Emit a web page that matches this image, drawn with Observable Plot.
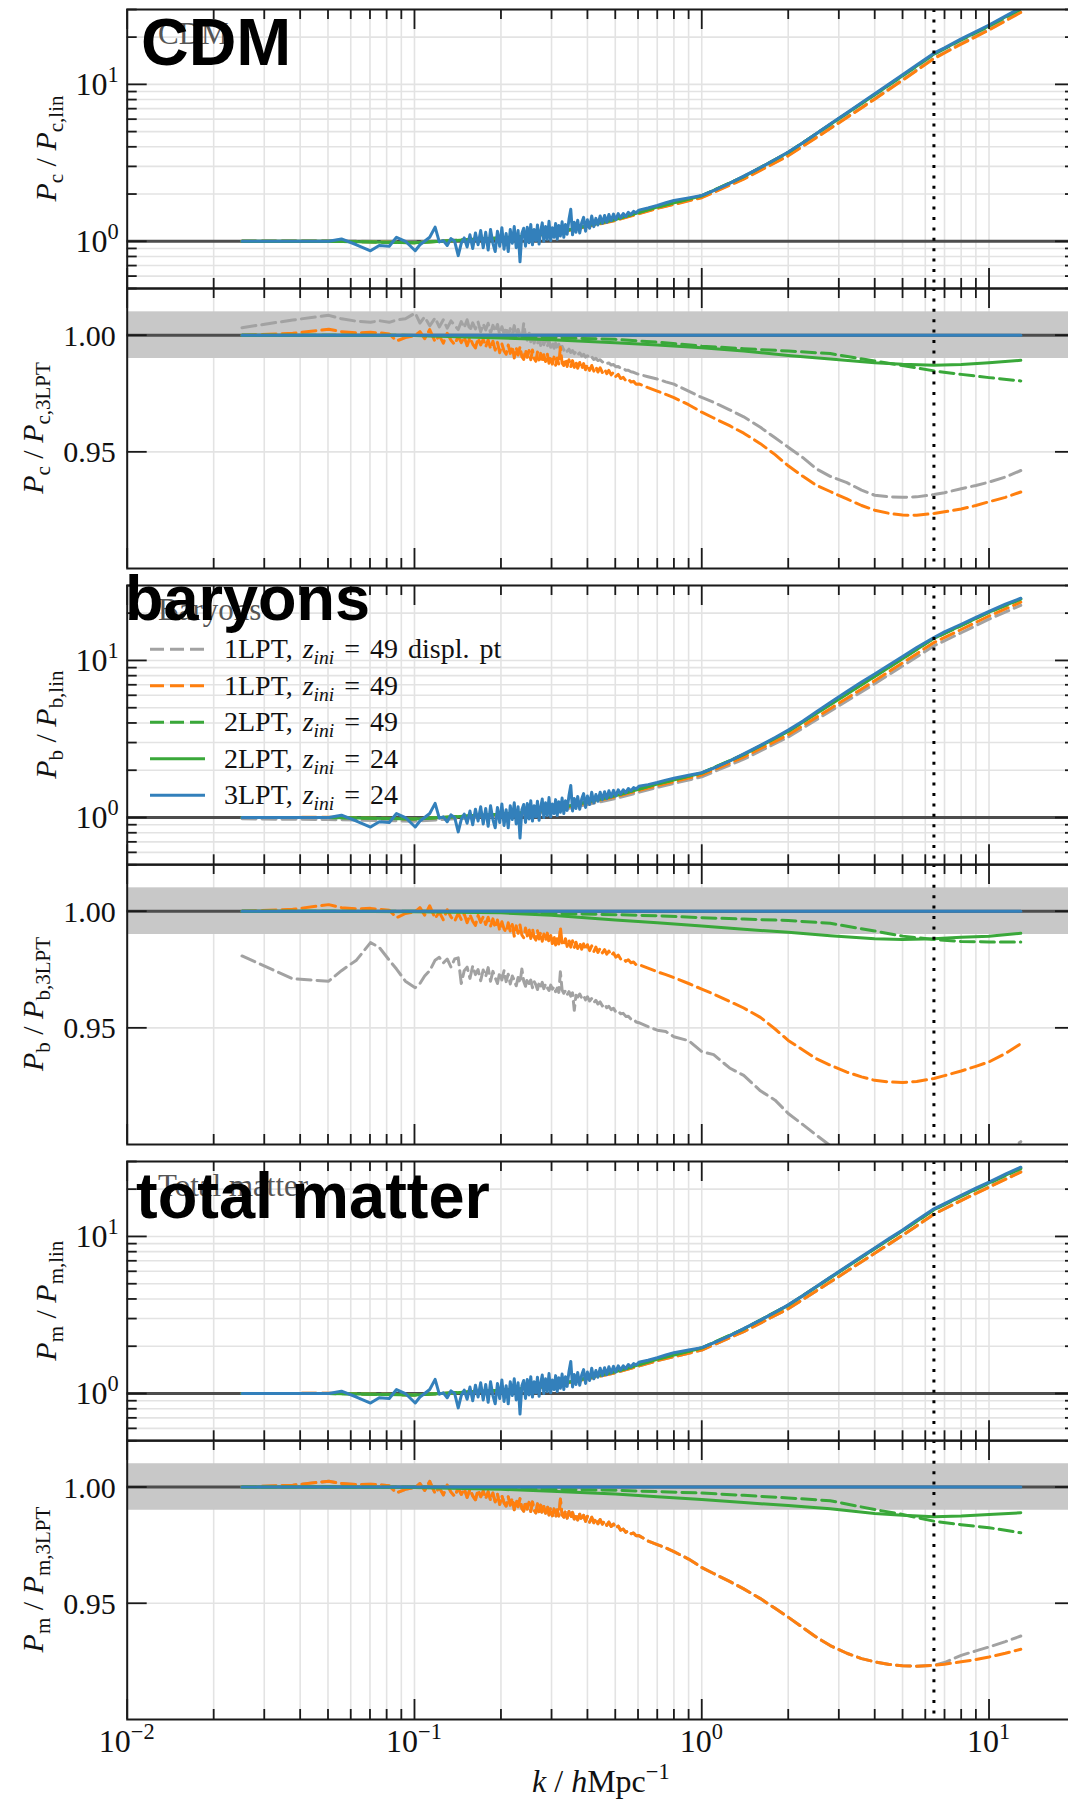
<!DOCTYPE html>
<html>
<head>
<meta charset="utf-8">
<script src="https://cdn.jsdelivr.net/npm/d3@7"></script>
<script src="https://cdn.jsdelivr.net/npm/@observablehq/plot@0.6"></script>
<style>
  html, body { margin: 0; padding: 0; background: #fff; overflow: hidden; }
  #fig { position: relative; width: 1068px; height: 1799px; overflow: hidden; }
  #fig svg { position: absolute; left: 0; }
</style>
</head>
<body>
<div id="fig"></div>
<script>
// ---------------------------------------------------------------------------
// Wavenumber grids (h/Mpc)
// ---------------------------------------------------------------------------
// dense, linearly binned low-k part where the spectra are noisy
const kLow = [
  0.0251, 0.0377, 0.0503, 0.0557, 0.0628, 0.0703, 0.0754, 0.0817, 0.0866, 0.0930,
  0.1006, 0.1045, 0.1085, 0.1130, 0.1180, 0.1220, 0.1260, 0.1300, 0.1340, 0.1380,
  0.1420, 0.1455, 0.1490, 0.1525, 0.1560, 0.1595, 0.1630, 0.1665, 0.1700, 0.1735,
  0.1770, 0.1805, 0.1840, 0.1875, 0.1910, 0.1945, 0.1980, 0.2015, 0.2050, 0.2085,
  0.2120, 0.2155, 0.2190, 0.2225, 0.2260, 0.2295, 0.2330, 0.2365, 0.2400, 0.2435,
  0.2470, 0.2505, 0.2540, 0.2575, 0.2610, 0.2645, 0.2680, 0.2715, 0.2750, 0.2785,
  0.2820, 0.2860, 0.2900, 0.2940, 0.2980, 0.3020, 0.3060, 0.3100, 0.3140, 0.3180,
  0.3220, 0.3265, 0.3310, 0.3355, 0.3400, 0.3450, 0.3500, 0.3550, 0.3600, 0.3650,
  0.3700, 0.3760, 0.3820, 0.3880, 0.3940, 0.4000, 0.4070, 0.4140, 0.4210, 0.4280,
  0.4350, 0.4430, 0.4510, 0.4590, 0.4670, 0.4750, 0.4840, 0.4930, 0.5020, 0.5120,
  0.5220, 0.5330, 0.5440, 0.5550, 0.5670, 0.5790, 0.5910, 0.6040
];
// smooth high-k part
const kHigh = [0.65, 0.70, 0.75, 0.80, 0.90, 1.00, 1.10, 1.25, 1.40, 1.60,
               1.80, 2.00, 2.25, 2.50, 2.80, 3.20, 3.60, 4.00, 4.50, 5.00,
               5.60, 6.43, 7.00, 8.00, 9.00, 10.0, 11.4, 12.9];
const kCoarse = [0.0251, 0.05, 0.1, 0.2, 0.3, 0.5, 0.7, 1.0, 1.4, 2.0, 2.8, 4.0, 5.0, 6.43, 8.0, 10.0, 12.9];
const kEnds = [0.0251, 12.9];
const kNyquist = [6.43];

// ---------------------------------------------------------------------------
// P / P_lin for 3LPT, z_ini = 24
// ---------------------------------------------------------------------------
// low-k part (same realisation for CDM, baryons and total matter)
const lin3LowK = [
  1.00, 1.00, 1.00, 1.035, 0.95, 0.87, 0.94, 0.93, 1.06, 1.00,
  0.87, 0.95, 1.00, 1.06, 1.23, 0.99, 1.01, 0.94, 1.04, 1.00,
  0.81, 0.97, 1.05, 0.92, 1.10, 0.90, 1.13, 0.95, 1.17, 0.91,
  1.14, 0.88, 1.19, 0.97, 0.86, 1.16, 0.93, 1.22, 0.89, 1.12,
  0.86, 1.19, 0.97, 1.24, 0.91, 1.17, 0.74, 1.12, 1.21, 0.93,
  1.23, 0.98, 1.28, 0.95, 1.19, 1.01, 1.27, 0.96, 1.16, 1.31,
  1.00, 1.24, 1.03, 1.34, 1.01, 1.22, 1.06, 1.30, 1.03, 1.26,
  1.08, 1.33, 1.06, 1.28, 1.11, 1.38, 1.60, 1.10, 1.32, 1.14,
  1.36, 1.13, 1.31, 1.42, 1.16, 1.37, 1.21, 1.45, 1.24, 1.40,
  1.27, 1.45, 1.30, 1.46, 1.32, 1.48, 1.35, 1.49, 1.37, 1.50,
  1.41, 1.50, 1.44, 1.53, 1.48, 1.55, 1.52, 1.58
];
const cdmLin3High = [1.63, 1.69, 1.76, 1.82, 1.89, 1.96, 2.10, 2.34, 2.60, 2.95,
                     3.32, 3.71, 4.25, 4.85, 5.60, 6.60, 7.65, 8.70, 10.1, 11.5,
                     13.3, 15.8, 17.1, 19.5, 21.7, 23.9, 27.2, 30.8];
const barLin3High = [1.62, 1.67, 1.73, 1.78, 1.86, 1.93, 2.06, 2.29, 2.54, 2.88,
                     3.23, 3.60, 4.12, 4.70, 5.40, 6.35, 7.30, 8.20, 9.40, 10.6,
                     12.1, 14.0, 15.2, 17.0, 18.8, 20.5, 22.8, 24.9];
const totLin3High = [1.63, 1.69, 1.76, 1.82, 1.89, 1.96, 2.10, 2.33, 2.59, 2.93,
                     3.29, 3.67, 4.20, 4.78, 5.50, 6.45, 7.45, 8.45, 9.75, 11.0,
                     12.7, 15.0, 16.2, 18.3, 20.3, 22.2, 24.9, 27.6];

// P / P_lin for the other runs (coarse grid)
const cdmLinDispl = [1.003, 1.009, 0.989, 1.051, 1.117, 1.362, 1.628, 1.908, 2.509, 3.532, 5.261, 8.103, 10.70, 14.72, 18.22, 22.39, 29.01];
const cdmLin1     = [1.000, 1.002, 0.980, 1.045, 1.109, 1.356, 1.619, 1.895, 2.492, 3.502, 5.225, 8.048, 10.61, 14.59, 18.05, 22.19, 28.73];
const cdmLin2z49  = [1.000, 1.000, 0.980, 1.049, 1.119, 1.378, 1.655, 1.951, 2.585, 3.685, 5.556, 8.603, 11.35, 15.56, 19.17, 23.47, 30.20];
const cdmLin2z24  = [1.000, 1.000, 0.980, 1.049, 1.118, 1.376, 1.653, 1.949, 2.582, 3.678, 5.543, 8.597, 11.36, 15.60, 19.25, 23.62, 30.47];

const barLinDispl = [0.981, 0.970, 0.948, 1.021, 1.085, 1.319, 1.556, 1.815, 2.350, 3.251, 4.749, 7.112, 9.209, 12.39, 15.01, 18.31, 22.44];
const barLin1     = [1.000, 1.003, 0.980, 1.044, 1.108, 1.354, 1.597, 1.866, 2.425, 3.363, 4.932, 7.420, 9.637, 13.00, 15.74, 19.18, 23.49];
const barLin2z49  = [1.000, 1.000, 0.980, 1.049, 1.119, 1.378, 1.637, 1.925, 2.521, 3.546, 5.253, 7.932, 10.29, 13.83, 16.68, 20.23, 24.57];
const barLin2z24  = [1.000, 1.000, 0.980, 1.049, 1.118, 1.375, 1.632, 1.918, 2.510, 3.528, 5.225, 7.906, 10.27, 13.83, 16.71, 20.28, 24.66];

const totLinDispl = [1.000, 1.003, 0.980, 1.045, 1.109, 1.355, 1.618, 1.892, 2.478, 3.464, 5.125, 7.815, 10.15, 13.85, 16.98, 20.67, 25.83];
const totLin1     = [1.000, 1.003, 0.980, 1.045, 1.109, 1.355, 1.618, 1.892, 2.478, 3.464, 5.125, 7.815, 10.15, 13.85, 16.92, 20.58, 25.67];
const totLin2z49  = [1.000, 1.000, 0.980, 1.049, 1.119, 1.378, 1.657, 1.955, 2.581, 3.653, 5.468, 8.368, 10.87, 14.78, 18.00, 21.81, 27.06];
const totLin2z24  = [1.000, 1.000, 0.980, 1.049, 1.118, 1.376, 1.653, 1.949, 2.573, 3.641, 5.448, 8.354, 10.87, 14.81, 18.07, 21.94, 27.29];

// ---------------------------------------------------------------------------
// P / P_3LPT ratios
// ---------------------------------------------------------------------------
// 1LPT z_ini = 49 at low k (CDM and total matter; also the displaced-particle
// total-matter run, which coincides with it there)
const lpt1RatioLowK = [
  1.0000, 1.0008, 1.0025, 1.0015, 1.0010, 1.0012, 1.0010, 1.0005, 0.9975, 0.9990,
  0.9998, 1.0015, 0.9985, 1.0024, 0.9972, 0.9998, 0.9966, 1.0008, 0.9978, 0.9960,
  0.9995, 0.9968, 0.9992, 0.9955, 0.9990, 0.9962, 0.9945, 0.9987, 0.9958, 0.9982,
  0.9950, 0.9980, 0.9942, 0.9974, 0.9936, 0.9969, 0.9925, 0.9962, 0.9932, 0.9918,
  0.9958, 0.9922, 0.9952, 0.9902, 0.9946, 0.9915, 0.9950, 0.9908, 0.9896, 0.9938,
  0.9905, 0.9934, 0.9895, 0.9936, 0.9900, 0.9888, 0.9928, 0.9894, 0.9922, 0.9884,
  0.9916, 0.9887, 0.9920, 0.9880, 0.9911, 0.9876, 0.9906, 0.9871, 0.9902, 0.9875,
  0.9948, 0.9880, 0.9870, 0.9899, 0.9866, 0.9895, 0.9864, 0.9891, 0.9862, 0.9885,
  0.9858, 0.9883, 0.9855, 0.9878, 0.9852, 0.9874, 0.9849, 0.9870, 0.9846, 0.9865,
  0.9842, 0.9860, 0.9840, 0.9854, 0.9835, 0.9849, 0.9830, 0.9841, 0.9823, 0.9832,
  0.9814, 0.9819, 0.9805, 0.9812, 0.9799, 0.9802, 0.9790, 0.9791
];
const barLpt1RatioLowK = [
  1.0000, 1.0008, 1.0028, 1.0015, 1.0010, 1.0012, 1.0008, 1.0004, 0.9972, 0.9990,
  0.9997, 1.0015, 0.9983, 1.0023, 0.9969, 0.9996, 0.9963, 1.0006, 0.9975, 0.9957,
  0.9991, 0.9964, 0.9988, 0.9950, 0.9985, 0.9957, 0.9939, 0.9982, 0.9952, 0.9976,
  0.9943, 0.9974, 0.9935, 0.9967, 0.9929, 0.9962, 0.9917, 0.9955, 0.9924, 0.9910,
  0.9950, 0.9913, 0.9943, 0.9893, 0.9937, 0.9905, 0.9941, 0.9898, 0.9886, 0.9928,
  0.9894, 0.9923, 0.9883, 0.9925, 0.9888, 0.9876, 0.9916, 0.9881, 0.9909, 0.9871,
  0.9902, 0.9873, 0.9906, 0.9865, 0.9896, 0.9861, 0.9891, 0.9855, 0.9886, 0.9859,
  0.9931, 0.9863, 0.9853, 0.9882, 0.9849, 0.9877, 0.9846, 0.9873, 0.9844, 0.9867,
  0.9840, 0.9865, 0.9837, 0.9860, 0.9834, 0.9856, 0.9831, 0.9851, 0.9827, 0.9846,
  0.9823, 0.9841, 0.9821, 0.9835, 0.9816, 0.9829, 0.9810, 0.9821, 0.9803, 0.9812,
  0.9795, 0.9799, 0.9785, 0.9792, 0.9779, 0.9782, 0.9770, 0.9771
];
const cdmDisplRatioLowK = [
  1.0032, 1.0065, 1.0085, 1.0070, 1.0060, 1.0055, 1.0062, 1.0055, 1.0065, 1.0070,
  1.0095, 1.0052, 1.0078, 1.0040, 1.0074, 1.0035, 1.0066, 1.0030, 1.0061, 1.0042,
  1.0024, 1.0058, 1.0032, 1.0066, 1.0019, 1.0053, 1.0027, 1.0056, 1.0014, 1.0048,
  1.0022, 1.0051, 1.0009, 1.0042, 1.0016, 1.0046, 1.0002, 1.0036, 1.0006, 1.0033,
  0.9996, 1.0028, 1.0004, 1.0041, 0.9990, 1.0024, 0.9999, 0.9984, 1.0050, 0.9994,
  0.9979, 1.0012, 0.9972, 1.0002, 0.9966, 0.9994, 0.9962, 0.9989, 0.9956, 0.9985,
  0.9959, 0.9982, 0.9952, 0.9976, 0.9948, 0.9972, 0.9944, 0.9966, 0.9940, 0.9961,
  0.9940, 0.9952, 0.9936, 0.9945, 0.9931, 0.9940, 0.9926, 0.9934, 0.9921, 0.9929,
  0.9916, 0.9924, 0.9911, 0.9918, 0.9906, 0.9912, 0.9901, 0.9907, 0.9896, 0.9901,
  0.9891, 0.9895, 0.9885, 0.9888, 0.9879, 0.9881, 0.9872, 0.9874, 0.9865, 0.9866,
  0.9858, 0.9857, 0.9850, 0.9850, 0.9843, 0.9841, 0.9836, 0.9832
];
const barDisplRatioLowK = [
  0.9808, 0.9710, 0.9700, 0.9745, 0.9790, 0.9865, 0.9845, 0.9790, 0.9752, 0.9700,
  0.9672, 0.9690, 0.9722, 0.9745, 0.9790, 0.9802, 0.9778, 0.9795, 0.9760, 0.9795,
  0.9800, 0.9690, 0.9745, 0.9760, 0.9712, 0.9765, 0.9728, 0.9750, 0.9702, 0.9748,
  0.9720, 0.9758, 0.9700, 0.9742, 0.9715, 0.9690, 0.9738, 0.9705, 0.9745, 0.9698,
  0.9730, 0.9688, 0.9722, 0.9705, 0.9680, 0.9716, 0.9692, 0.9752, 0.9700, 0.9678,
  0.9712, 0.9690, 0.9705, 0.9672, 0.9698, 0.9685, 0.9664, 0.9692, 0.9676, 0.9695,
  0.9668, 0.9688, 0.9672, 0.9660, 0.9683, 0.9666, 0.9676, 0.9655, 0.9670, 0.9652,
  0.9740, 0.9662, 0.9648, 0.9660, 0.9642, 0.9655, 0.9636, 0.9650, 0.9575, 0.9640,
  0.9632, 0.9645, 0.9628, 0.9638, 0.9620, 0.9633, 0.9615, 0.9626, 0.9608, 0.9618,
  0.9602, 0.9611, 0.9594, 0.9603, 0.9586, 0.9592, 0.9578, 0.9584, 0.9568, 0.9572,
  0.9560, 0.9562, 0.9549, 0.9550, 0.9537, 0.9538, 0.9525, 0.9522
];

// high-k parts on kHigh
const cdmDisplRatioHigh = [0.9822, 0.9812, 0.9800, 0.9790, 0.9760, 0.9733, 0.9712, 0.9680, 0.9650, 0.9605,
                           0.9560, 0.9520, 0.9475, 0.9428, 0.9395, 0.9368, 0.9336, 0.9314, 0.9307, 0.9305,
                           0.9307, 0.9317, 0.9325, 0.9342, 0.9356, 0.9370, 0.9392, 0.9420];
const cdmLpt1RatioHigh  = [0.9775, 0.9760, 0.9746, 0.9732, 0.9702, 0.9670, 0.9645, 0.9612, 0.9580, 0.9535,
                           0.9488, 0.9440, 0.9395, 0.9357, 0.9330, 0.9298, 0.9270, 0.9250, 0.9236, 0.9229,
                           0.9228, 0.9236, 0.9243, 0.9255, 0.9270, 0.9286, 0.9305, 0.9328];
const barDisplRatioHigh = [0.9505, 0.9490, 0.9484, 0.9462, 0.9445, 0.9398, 0.9385, 0.9328, 0.9296, 0.9230,
                           0.9190, 0.9133, 0.9085, 0.9041, 0.8995, 0.8955, 0.8920, 0.8890, 0.8870, 0.8855,
                           0.8850, 0.8850, 0.8858, 0.8880, 0.8905, 0.8930, 0.8965, 0.9012];
const barLpt1RatioHigh  = [0.9756, 0.9740, 0.9728, 0.9715, 0.9690, 0.9666, 0.9645, 0.9613, 0.9585, 0.9545,
                           0.9495, 0.9446, 0.9405, 0.9368, 0.9340, 0.9310, 0.9290, 0.9275, 0.9268, 0.9266,
                           0.9270, 0.9283, 0.9295, 0.9315, 0.9335, 0.9354, 0.9390, 0.9432];
const totDisplRatioHigh = [0.9768, 0.9752, 0.9738, 0.9722, 0.9690, 0.9654, 0.9628, 0.9594, 0.9562, 0.9520,
                           0.9478, 0.9440, 0.9395, 0.9355, 0.9318, 0.9285, 0.9262, 0.9248, 0.9237, 0.9231,
                           0.9229, 0.9233, 0.9245, 0.9276, 0.9295, 0.9312, 0.9335, 0.9359];
const totLpt1RatioHigh  = [0.9768, 0.9752, 0.9738, 0.9722, 0.9690, 0.9654, 0.9628, 0.9594, 0.9562, 0.9520,
                           0.9478, 0.9440, 0.9395, 0.9355, 0.9318, 0.9285, 0.9262, 0.9248, 0.9237, 0.9231,
                           0.9229, 0.9233, 0.9238, 0.9248, 0.9258, 0.9269, 0.9285, 0.9302];

// 2LPT ratios on the coarse grid
const cdmRatio2z49 = [1.0000, 1.0000, 0.9999, 0.9995, 0.9990, 0.9982, 0.9970, 0.9953, 0.9942, 0.9932, 0.9921, 0.9889, 0.9870, 0.9847, 0.9832, 0.9818, 0.9804];
const cdmRatio2z24 = [1.0000, 1.0000, 0.9999, 0.9988, 0.9980, 0.9968, 0.9958, 0.9946, 0.9932, 0.9913, 0.9898, 0.9882, 0.9875, 0.9871, 0.9874, 0.9882, 0.9892];
const barRatio2z49 = [1.0000, 1.0000, 1.0000, 0.9995, 0.9990, 0.9985, 0.9980, 0.9972, 0.9966, 0.9960, 0.9948, 0.9915, 0.9893, 0.9879, 0.9870, 0.9868, 0.9868];
const barRatio2z24 = [1.0000, 1.0000, 0.9998, 0.9993, 0.9982, 0.9962, 0.9950, 0.9936, 0.9922, 0.9910, 0.9895, 0.9882, 0.9879, 0.9882, 0.9888, 0.9893, 0.9905];
const totRatio2z49 = [1.0000, 1.0000, 1.0000, 0.9995, 0.9990, 0.9986, 0.9980, 0.9974, 0.9964, 0.9953, 0.9941, 0.9903, 0.9882, 0.9853, 0.9838, 0.9825, 0.9803];
const totRatio2z24 = [1.0000, 1.0000, 0.9998, 0.9990, 0.9982, 0.9970, 0.9958, 0.9946, 0.9933, 0.9920, 0.9906, 0.9886, 0.9878, 0.9872, 0.9875, 0.9882, 0.9889];

const ratio3 = [1.0, 1.0];

// ---------------------------------------------------------------------------
// Axes: limits, ticks, labels
// ---------------------------------------------------------------------------
const kDomain = [0.01, 20];
const kMajor = [0.01, 0.1, 1, 10];
const kMinor = [0.02, 0.03, 0.04, 0.05, 0.06, 0.07, 0.08, 0.09,
                0.2, 0.3, 0.4, 0.5, 0.6, 0.7, 0.8, 0.9,
                2, 3, 4, 5, 6, 7, 8, 9, 20];
const kTickExponents = ["\u22122", "\u22121", "0", "1"];

const linDomain = [0.5, 30];
const linMajor = [1, 10];
const linMinor = [0.5, 0.6, 0.7, 0.8, 0.9, 2, 3, 4, 5, 6, 7, 8, 9, 20, 30];
const linTickExponents = ["0", "1"];

const ratioDomain = [0.90, 1.02];
const ratioMajor = [0.95, 1.00];
const ratioTickText = ["0.95", "1.00"];
const band = [[0.99, 1.01]];

const runLabels = [
  ["1LPT, ", "49 displ. pt"],
  ["1LPT, ", "49"],
  ["2LPT, ", "49"],
  ["2LPT, ", "24"],
  ["3LPT, ", "24"]
];

// line styles per run
const runStyle = {
  displ: {stroke: "#a2a2a2", dash: "14,6"},
  lpt1:  {stroke: "#ff7f0e", dash: "14,6"},
  lpt2a: {stroke: "#3aa83a", dash: "14,6"},
  lpt2b: {stroke: "#3aa83a", dash: null},
  lpt3:  {stroke: "#3380bb", dash: null}
};
const runOrder = ["displ", "lpt1", "lpt2a", "lpt2b", "lpt3"];

// ---------------------------------------------------------------------------
// Drawing helpers
// ---------------------------------------------------------------------------
const fig = document.getElementById("fig");
const W = 1076, ML = 126.7, MR = 1;
const SERIF = "'Liberation Serif', 'DejaVu Serif', serif";
const SANS = "'Liberation Sans', Arial, Helvetica, sans-serif";
const INK = "#1a1a1a";
const TICK_FONT = 32;

function rows(k, v) { return k.map((kk, i) => ({k: kk, v: v[i]})); }

function scaleFn(desc) {
  if (desc && typeof desc.apply === "function") return v => desc.apply(v);
  const s = (desc.type === "log" ? d3.scaleLog() : d3.scaleLinear()).domain(desc.domain).range(desc.range);
  return v => s(v);
}

// text with italic / sub / superscript runs
function rich(sel, parts, size) {
  let shift = 0;
  for (const p of parts) {
    const target = p.sub ? size * 0.22 : p.sup ? -size * 0.4 : 0;
    const ts = sel.append("tspan").text(p.t);
    if (target - shift !== 0) ts.attr("dy", target - shift);
    shift = target;
    if (p.sub || p.sup) ts.attr("font-size", size * 0.7);
    if (p.it) ts.attr("font-style", "italic");
  }
  return sel;
}

function drawPanel(spec) {
  const {top, bottom, kind, lines, ylabel, bottomAxis} = spec;
  const mt = 12, mb = bottomAxis ? 95 : 12;
  const ph = bottom - top, pw = W - ML - MR;
  const isLog = kind === "lin";
  const yMaj = isLog ? linMajor : ratioMajor;
  const yMin = isLog ? linMinor : [];
  const tick = {stroke: INK, strokeWidth: 1.8};

  const marks = [
    Plot.ruleX(kMajor.concat(kMinor), {stroke: "#e3e3e3", strokeWidth: 1.6}),
    Plot.ruleY(yMaj.concat(yMin), {stroke: "#e3e3e3", strokeWidth: 1.6})
  ];
  if (!isLog) {
    marks.push(Plot.rect(band, {x1: () => kDomain[0], x2: () => kDomain[1], y1: d => d[0], y2: d => d[1], fill: "#c8c8c8"}));
  }
  marks.push(Plot.ruleY([1], {stroke: "#4d4d4d", strokeWidth: 3}));
  for (const ln of lines) {
    const st = runStyle[ln.run];
    marks.push(Plot.line(rows(ln.k, ln.v), {
      x: "k", y: "v", stroke: st.stroke, strokeWidth: 3,
      strokeDasharray: st.dash, strokeLinejoin: "round", clip: true
    }));
  }
  marks.push(Plot.ruleX(kNyquist, {stroke: "#000", strokeWidth: 3, strokeDasharray: "3,7.4"}));
  // inward ticks on all four spines
  marks.push(
    Plot.ruleX(kMajor, {...tick, insetTop: ph - 20}),
    Plot.ruleX(kMinor, {...tick, insetTop: ph - 10}),
    Plot.ruleX(kMajor, {...tick, insetBottom: ph - 20}),
    Plot.ruleX(kMinor, {...tick, insetBottom: ph - 10}),
    Plot.ruleY(yMaj, {...tick, insetRight: pw - 20}),
    Plot.ruleY(yMaj, {...tick, insetLeft: pw - 20})
  );
  if (yMin.length) {
    marks.push(
      Plot.ruleY(yMin, {...tick, insetRight: pw - 10}),
      Plot.ruleY(yMin, {...tick, insetLeft: pw - 10})
    );
  }
  marks.push(Plot.frame({stroke: INK, strokeWidth: 2}));

  const svg = Plot.plot({
    width: W, height: ph + mt + mb,
    marginLeft: ML, marginRight: MR, marginTop: mt, marginBottom: mb,
    style: "background: transparent; overflow: visible; max-width: none;",
    x: {type: "log", domain: kDomain, axis: null},
    y: {type: isLog ? "log" : "linear", domain: isLog ? linDomain : ratioDomain, axis: null},
    marks
  });
  const offset = top - mt;
  svg.style.top = offset + "px";
  fig.appendChild(svg);

  const sx = scaleFn(svg.scale("x"));
  const sy = scaleFn(svg.scale("y"));
  const g = d3.select(svg).append("g")
    .attr("font-family", SERIF).attr("fill", "#111").attr("text-anchor", "start");

  // y tick labels
  if (isLog) {
    linMajor.forEach((v, i) => {
      rich(g.append("text").attr("x", ML - 8).attr("y", sy(v) + 11).attr("text-anchor", "end").attr("font-size", TICK_FONT),
        [{t: "10"}, {t: linTickExponents[i], sup: true}], TICK_FONT);
    });
  } else {
    ratioMajor.forEach((v, i) => {
      g.append("text").attr("x", ML - 11).attr("y", sy(v) + 11).attr("text-anchor", "end")
        .attr("font-size", 30).text(ratioTickText[i]);
    });
  }

  // y axis title
  const yc = (sy(isLog ? linDomain[0] : ratioDomain[0]) + sy(isLog ? linDomain[1] : ratioDomain[1])) / 2;
  const ax = isLog ? 56 : 43;
  rich(g.append("text").attr("transform", `translate(${ax},${yc}) rotate(-90)`)
    .attr("text-anchor", "middle").attr("font-size", 30), ylabel, 30);

  // x tick labels and title on the bottom panel
  if (bottomAxis) {
    const yb = sy(ratioDomain[0]);
    kMajor.forEach((v, i) => {
      rich(g.append("text").attr("x", sx(v)).attr("y", yb + 33).attr("text-anchor", "middle").attr("font-size", TICK_FONT),
        [{t: "10"}, {t: kTickExponents[i], sup: true}], TICK_FONT);
    });
    rich(g.append("text").attr("x", (sx(kDomain[0]) + sx(kDomain[1])) / 2).attr("y", yb + 73)
      .attr("text-anchor", "middle").attr("font-size", 32),
      [{t: "k", it: true}, {t: " / "}, {t: "h", it: true}, {t: "Mpc"}, {t: "\u22121", sup: true}], 32);
  }

  // legend
  if (spec.legend) {
    const lg = g.append("g");
    runOrder.forEach((run, i) => {
      const y = top + 64.3 + i * 36.5 - offset;
      const st = runStyle[run];
      lg.append("line").attr("x1", 150).attr("x2", 205).attr("y1", y).attr("y2", y)
        .attr("stroke", st.stroke).attr("stroke-width", 3)
        .attr("stroke-dasharray", st.dash || null);
      rich(lg.append("text").attr("x", 224).attr("y", y + 9).attr("font-size", 28)
          .attr("word-spacing", 3).attr("fill", "#111"),
        [{t: runLabels[i][0]}, {t: "z", it: true}, {t: "ini", it: true, sub: true}, {t: " = " + runLabels[i][1]}], 28);
    });
  }

  // panel headings: small serif name, bold overlay name on top
  if (spec.name) {
    g.append("text").attr("x", 158).attr("y", top + 35 - offset)
      .attr("font-size", 31).attr("fill", "#555").text(spec.name);
    g.append("text").attr("x", spec.overlayX).attr("y", spec.overlayY - offset)
      .attr("font-family", SANS).attr("font-weight", "bold").attr("font-size", spec.overlaySize)
      .attr("fill", "#000").text(spec.overlay);
  }
  return svg;
}

function linLines(displ, l1, l2a, l2b, high) {
  return [
    {run: "displ", k: kCoarse, v: displ},
    {run: "lpt1", k: kCoarse, v: l1},
    {run: "lpt2a", k: kCoarse, v: l2a},
    {run: "lpt2b", k: kCoarse, v: l2b},
    {run: "lpt3", k: kLow.concat(kHigh), v: lin3LowK.concat(high)}
  ];
}
function ratioLines(displLow, displHigh, l1Low, l1High, l2a, l2b) {
  return [
    {run: "displ", k: kLow.concat(kHigh), v: displLow.concat(displHigh)},
    {run: "lpt1", k: kLow.concat(kHigh), v: l1Low.concat(l1High)},
    {run: "lpt2a", k: kCoarse, v: l2a},
    {run: "lpt2b", k: kCoarse, v: l2b},
    {run: "lpt3", k: kEnds, v: ratio3}
  ];
}
function yTitle(sp, tail) {
  return [{t: "P", it: true}, {t: sp, sub: true}, {t: " / "}, {t: "P", it: true}, {t: sp + "," + tail, sub: true}];
}

// ---------------------------------------------------------------------------
// Six stacked panels
// ---------------------------------------------------------------------------
drawPanel({top: 9.3, bottom: 288.3, kind: "lin",
  lines: linLines(cdmLinDispl, cdmLin1, cdmLin2z49, cdmLin2z24, cdmLin3High),
  ylabel: yTitle("c", "lin"), name: "CDM", overlay: "CDM", overlayX: 141, overlayY: 65, overlaySize: 66});
drawPanel({top: 288.3, bottom: 568.3, kind: "ratio",
  lines: ratioLines(cdmDisplRatioLowK, cdmDisplRatioHigh, lpt1RatioLowK, cdmLpt1RatioHigh, cdmRatio2z49, cdmRatio2z24),
  ylabel: yTitle("c", "3LPT")});
drawPanel({top: 585, bottom: 864.3, kind: "lin",
  lines: linLines(barLinDispl, barLin1, barLin2z49, barLin2z24, barLin3High),
  ylabel: yTitle("b", "lin"), name: "Baryons", overlay: "baryons", overlayX: 125, overlayY: 620, overlaySize: 63, legend: true});
drawPanel({top: 864.3, bottom: 1144.3, kind: "ratio",
  lines: ratioLines(barDisplRatioLowK, barDisplRatioHigh, barLpt1RatioLowK, barLpt1RatioHigh, barRatio2z49, barRatio2z24),
  ylabel: yTitle("b", "3LPT")});
drawPanel({top: 1161, bottom: 1440.3, kind: "lin",
  lines: linLines(totLinDispl, totLin1, totLin2z49, totLin2z24, totLin3High),
  ylabel: yTitle("m", "lin"), name: "Total matter", overlay: "total matter", overlayX: 136, overlayY: 1218, overlaySize: 65});
drawPanel({top: 1440.3, bottom: 1719.3, kind: "ratio",
  lines: ratioLines(lpt1RatioLowK, totDisplRatioHigh, lpt1RatioLowK, totLpt1RatioHigh, totRatio2z49, totRatio2z24),
  ylabel: yTitle("m", "3LPT"), bottomAxis: true});
</script>
</body>
</html>
